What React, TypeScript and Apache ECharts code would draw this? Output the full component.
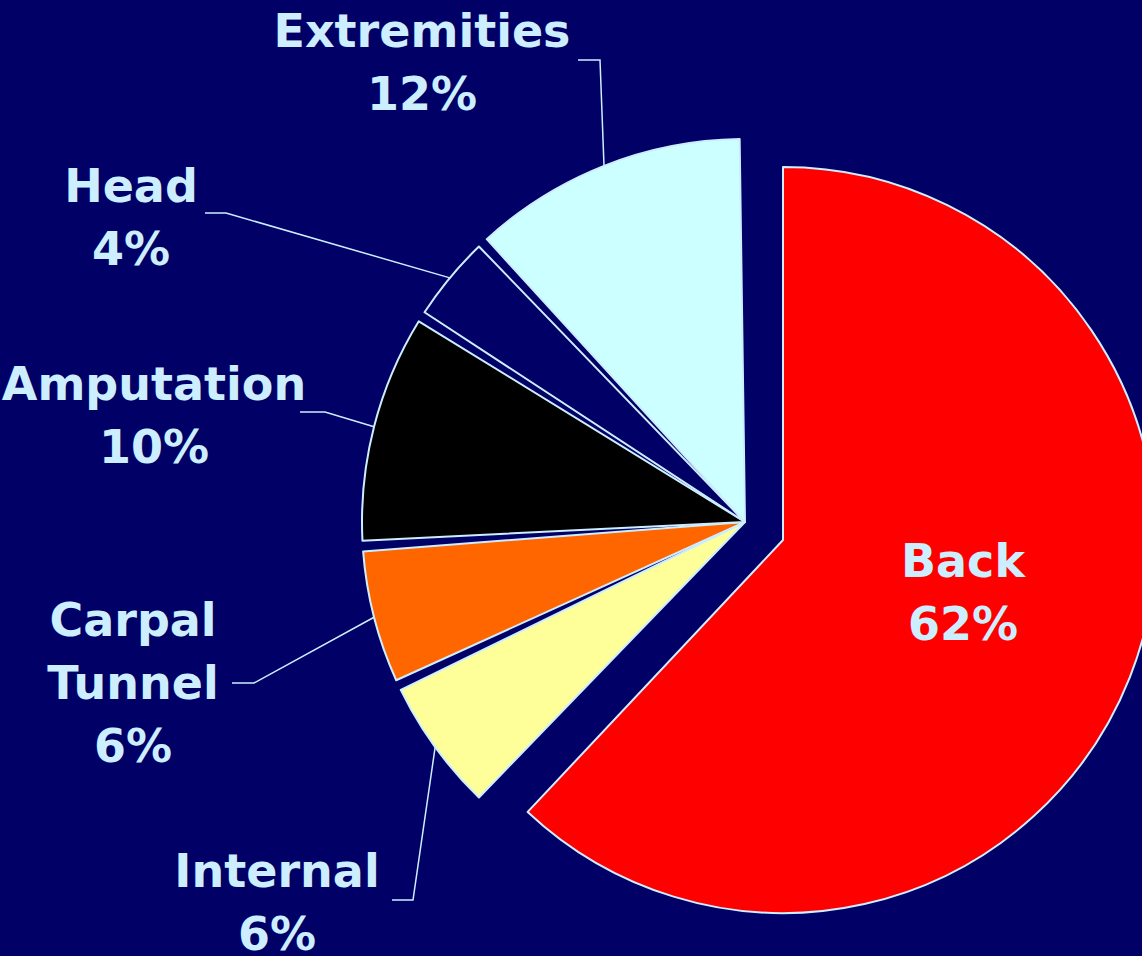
import React, { useEffect, useRef } from "react";
import * as echarts from "echarts";

const categories = ["Back", "Internal", "Carpal Tunnel", "Amputation", "Head", "Extremities"];
const values = [62, 6, 6, 10, 4, 12];
const sliceColors = ["#ff0000", "#ffff99", "#ff6600", "#000000", "#000066", "#ccffff"];

const BG = "#000066";
const TEXT = "#cceeff";

// label placement (text centre, line bend point, line end point)
const labelPlaces: Record<string, { tx: number; ty: number; bend?: number[]; end?: number[] }> = {
  Back: { tx: 963, ty: 592 },
  Internal: { tx: 277, ty: 902, bend: [413, 900], end: [392, 900] },
  "Carpal Tunnel": { tx: 133, ty: 683, bend: [254, 683], end: [232, 683] },
  Amputation: { tx: 154, ty: 415, bend: [325, 412], end: [300, 412] },
  Head: { tx: 131, ty: 217, bend: [226, 213], end: [205, 213] },
  Extremities: { tx: 422, ty: 62, bend: [600, 60], end: [578, 60] },
};

export default function App() {
  const ref = useRef<HTMLDivElement>(null);
  useEffect(() => {
    if (!ref.current) return;
    const chart = echarts.init(ref.current, null, { renderer: "svg" });
    const labelText = (p: any) => p.name.replace(" ", "\n") + "\n" + Math.round(p.percent) + "%";
    const baseLabel = {
      color: TEXT,
      fontFamily: "DejaVu Sans",
      fontWeight: "bold" as const,
      fontSize: 46,
      lineHeight: 63,
      formatter: labelText,
    };
    const restData = categories.map((name, i) => {
      const isBack = name === "Back";
      return {
        name,
        value: values[i],
        itemStyle: isBack
          ? { color: "transparent", borderWidth: 0 }
          : { color: sliceColors[i], borderColor: TEXT, borderWidth: 2 },
        label: { show: !isBack },
        labelLine: { show: !isBack },
      };
    });
    const backData = categories.map((name, i) => {
      const isBack = name === "Back";
      return {
        name,
        value: values[i],
        itemStyle: isBack
          ? { color: sliceColors[i], borderColor: TEXT, borderWidth: 2 }
          : { color: "transparent", borderWidth: 0 },
        label: { show: isBack },
        labelLine: { show: false },
      };
    });
    const layout = (params: any) => {
      const place = labelPlaces[categories[params.dataIndex]];
      if (!place) return {};
      const out: any = { x: place.tx, y: place.ty, align: "center", verticalAlign: "middle" };
      if (place.bend && params.labelLinePoints && params.labelLinePoints[0]) {
        out.labelLinePoints = [params.labelLinePoints[0], place.bend, place.end];
      }
      return out;
    };
    chart.setOption({
      animation: false,
      backgroundColor: BG,
      series: [
        {
          type: "pie",
          center: [745, 522],
          radius: 383,
          startAngle: 90,
          clockwise: true,
          padAngle: 1.6,
          silent: true,
          emphasis: { disabled: true },
          label: { ...baseLabel, position: "outside" },
          labelLine: { show: true, length: 10, length2: 10, lineStyle: { color: TEXT, width: 1.5 } },
          labelLayout: layout,
          data: restData,
        },
        {
          type: "pie",
          center: [783, 540],
          radius: 373,
          startAngle: 90,
          clockwise: true,
          silent: true,
          emphasis: { disabled: true },
          label: { ...baseLabel, position: "inside" },
          labelLine: { show: false },
          labelLayout: layout,
          data: backData,
        },
      ],
    });
    return () => chart.dispose();
  }, []);
  return (
    <div
      ref={ref}
      style={{ position: "absolute", left: 0, top: 0, width: 1142, height: 956, background: BG }}
    />
  );
}
